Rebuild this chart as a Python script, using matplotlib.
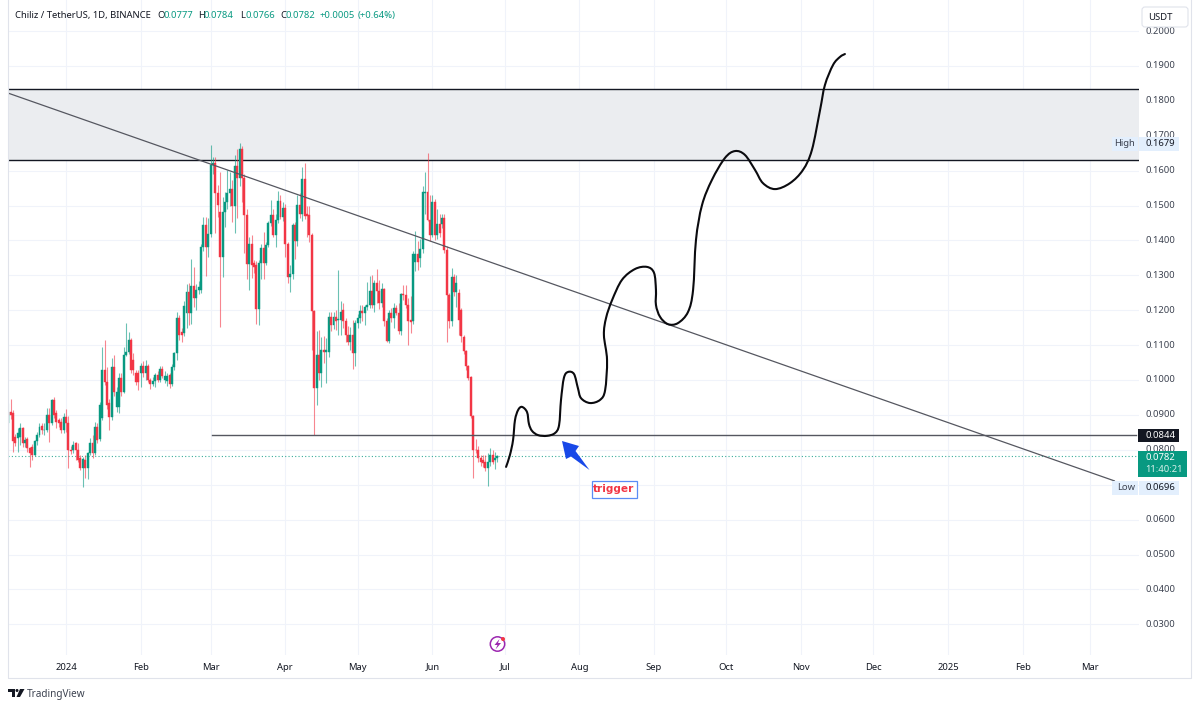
import numpy as np
import matplotlib
matplotlib.use("Agg")
import matplotlib.pyplot as plt
from matplotlib.patches import Rectangle, Polygon, FancyBboxPatch, Circle, PathPatch
from matplotlib.path import Path

plt.rcParams['font.family'] = ['Noto Sans', 'DejaVu Sans']

# ---------- data ----------
last_day = 179  # days since 2024-01-01 of the last candle
opens = [
 .0878,.0909,.0905,.0838,.0833,.0838,.0862,.0819,.0830,.0804,
 .0809,.0785,.0826,.0842,.0868,.0857,.0857,.0900,.0876,.0943,
 .0905,.0885,.0881,.0857,.0895,.0876,.0800,.0799,.0819,.0800,.0776,
 .0747,.0771,.0747,.0792,.0819,.0792,.0866,.0830,.0890,.1030,
 .0995,.0933,.0895,.1038,.0923,.0923,.1005,.0966,.1073,.1081,
 .1116,.1057,.1019,.1019,.1019,.1041,.1019,.1041,.1000,.0988,
 .0997,.1014,.1000,.1032,.1000,.0998,.1014,.0988,.1038,.1076,
 .1178,.1137,.1134,.1191,.1253,.1193,.1269,.1234,.1258,.1258,
 .1382,.1444,.1382,.1418,.1616,.1622,.1535,.1482,.1353,.1482,.1511,
 .1535,.1546,.1498,.1613,.1580,.1663,.1580,.1472,.1331,.1391,
 .1334,.1330,.1203,.1334,.1377,.1336,.1386,.1449,.1472,.1415,
 .1458,.1512,.1466,.1494,.1389,.1296,.1303,.1444,.1399,.1501,
 .1477,.1577,.1475,.1472,.1415,.1197,.0976,.1071,.1019,.1086,
 .1081,.1081,.1181,.1157,.1181,.1172,.1172,.1201,.1168,
 .1129,.1110,.1129,.1077,.1163,.1177,.1199,.1191,.1210,.1215,
 .1256,.1215,.1279,.1256,.1220,.1260,.1168,.1113,.1193,.1177,
 .1206,.1191,.1139,.1247,.1244,.1215,.1172,.1168,.1339,.1360,
 .1349,.1375,.1535,.1540,.1459,.1416,.1509,.1416,.1446,.1446,
 .1465,.1373,.1244,.1168,.1296,.1251,.1250,.1200,.1123,.1082,
 .1039,.1008,.0897,.0800,.0800,.0776,.0771,.0766,.0747,
 .0766,.0786,.0770,.0777]
highs = [
 .0933,.0945,.0914,.0845,.0862,.0878,.0866,.0838,.0838,.0809,
 .0818,.0828,.0852,.0876,.0876,.0876,.0919,.0919,.0945,.0952,
 .0914,.0892,.0890,.0905,.0916,.0897,.0810,.0825,.0823,.0819,.0785,
 .0778,.0785,.0795,.0833,.0842,.0881,.0878,.0938,.1095,.1116,
 .1038,.0945,.1062,.1071,.0980,.1020,.1019,.1095,.1162,.1138,
 .1120,.1078,.1030,.1028,.1050,.1055,.1057,.1045,.1005,.1010,
 .1020,.1025,.1040,.1040,.1025,.1020,.1020,.1045,.1080,.1196,
 .1185,.1150,.1225,.1275,.1277,.1348,.1324,.1275,.1285,.1390,
 .1466,.1466,.1463,.1673,.1640,.1640,.1558,.1597,.1525,.1539,.1601,
 .1597,.1573,.1644,.1663,.1678,.1670,.1590,.1490,.1410,.1415,
 .1345,.1340,.1345,.1390,.1425,.1395,.1455,.1517,.1490,.1475,
 .1541,.1530,.1510,.1505,.1395,.1330,.1450,.1452,.1530,.1535,
 .1609,.1623,.1500,.1498,.1420,.1200,.1140,.1143,.1124,.1125,
 .1120,.1195,.1195,.1196,.1200,.1314,.1225,.1220,.1177,
 .1155,.1153,.1172,.1172,.1190,.1215,.1215,.1215,.1282,.1298,
 .1301,.1287,.1317,.1287,.1277,.1265,.1177,.1200,.1205,.1220,
 .1215,.1220,.1250,.1273,.1273,.1235,.1240,.1370,.1428,.1397,
 .1405,.1555,.1597,.1650,.1530,.1530,.1518,.1490,.1475,.1475,
 .1476,.1385,.1250,.1320,.1305,.1300,.1260,.1205,.1128,.1087,
 .1043,.1012,.0900,.0830,.0810,.0785,.0785,.0785,.0790,
 .0805,.0800,.0795,.0784]
lows = [
 .0852,.0887,.0795,.0812,.0795,.0814,.0809,.0809,.0795,.0750,
 .0770,.0783,.0814,.0838,.0845,.0842,.0850,.0823,.0870,.0890,
 .0862,.0865,.0847,.0847,.0852,.0747,.0788,.0790,.0771,.0765,.0742,
 .0694,.0718,.0716,.0785,.0776,.0785,.0820,.0825,.0885,.0985,
 .0918,.0857,.0885,.0955,.0908,.0905,.0955,.0962,.1070,.1075,
 .1020,.1015,.0985,.0971,.0980,.1010,.1000,.0995,.0973,.0982,
 .0981,.0995,.0995,.1005,.0990,.0982,.0976,.0982,.1030,.1058,
 .1115,.1108,.1125,.1150,.1158,.1160,.1210,.1200,.1245,.1250,
 .1370,.1299,.1353,.1410,.1590,.1420,.1468,.1152,.1296,.1439,.1490,
 .1500,.1453,.1420,.1463,.1555,.1510,.1363,.1290,.1258,.1291,
 .1308,.1160,.1158,.1290,.1290,.1330,.1380,.1440,.1410,.1382,
 .1450,.1460,.1455,.1353,.1277,.1253,.1290,.1348,.1385,.1465,
 .1455,.1460,.1410,.1396,.1085,.0842,.0928,.1000,.0981,.1050,
 .0990,.1065,.1140,.1145,.1143,.1130,.1130,.1150,.1110,
 .1100,.1085,.1031,.1039,.1150,.1163,.1170,.1158,.1200,.1205,
 .1205,.1196,.1220,.1203,.1210,.1155,.1108,.1105,.1165,.1148,
 .1185,.1132,.1130,.1230,.1205,.1100,.1136,.1160,.1313,.1314,
 .1323,.1365,.1475,.1455,.1397,.1410,.1400,.1405,.1410,.1435,
 .1365,.1110,.1150,.1155,.1240,.1210,.1128,.1110,.1075,.1030,
 .1000,.0890,.0719,.0790,.0765,.0755,.0750,.0740,.0696,
 .0755,.0758,.0745,.0766]
closes = [
 .0909,.0900,.0826,.0819,.0847,.0862,.0819,.0828,.0804,.0790,
 .0785,.0826,.0842,.0866,.0857,.0858,.0900,.0876,.0943,.0900,
 .0881,.0876,.0857,.0895,.0876,.0800,.0797,.0814,.0798,.0771,.0747,
 .0773,.0747,.0792,.0819,.0792,.0866,.0828,.0928,.1030,.0995,
 .0928,.0895,.1038,.0966,.0966,.1005,.0966,.1073,.1081,.1116,
 .1028,.1028,.0995,.0995,.1041,.1019,.1041,.1000,.0988,.0997,
 .1014,.1000,.1032,.1011,.1011,.1011,.0988,.1038,.1076,.1178,
 .1129,.1129,.1213,.1251,.1193,.1269,.1234,.1258,.1267,.1382,
 .1444,.1382,.1418,.1616,.1622,.1535,.1501,.1353,.1482,.1511,.1535,
 .1546,.1498,.1613,.1580,.1663,.1580,.1472,.1331,.1391,.1329,
 .1325,.1203,.1335,.1377,.1336,.1386,.1449,.1472,.1415,.1458,
 .1512,.1466,.1494,.1389,.1296,.1303,.1444,.1399,.1501,.1477,
 .1577,.1470,.1470,.1415,.1197,.0976,.1071,.1019,.1086,.1081,
 .1086,.1181,.1157,.1181,.1170,.1174,.1196,.1168,.1129,
 .1110,.1129,.1077,.1163,.1177,.1199,.1191,.1210,.1215,.1256,
 .1215,.1279,.1256,.1220,.1260,.1168,.1113,.1193,.1177,.1206,
 .1191,.1139,.1247,.1244,.1215,.1168,.1165,.1360,.1360,.1337,
 .1375,.1540,.1540,.1459,.1416,.1511,.1416,.1446,.1420,.1465,
 .1373,.1244,.1168,.1296,.1251,.1279,.1172,.1125,.1082,.1039,
 .1005,.0897,.0800,.0798,.0776,.0766,.0763,.0747,.0766,
 .0786,.0766,.0776,.0782]

month_days = [0, 31, 60, 91, 121, 152, 182, 213, 244, 274, 305, 335, 366, 397, 425]
month_labels = ['2024', 'Feb', 'Mar', 'Apr', 'May', 'Jun', 'Jul', 'Aug', 'Sep', 'Oct', 'Nov', 'Dec', '2025', 'Feb', 'Mar']
price_ticks = [.03, .04, .05, .06, .07, .08, .09, .10, .11, .12, .13, .14, .15, .16, .17, .18, .19, .20]
price_labels = [.03, .04, .05, .06, .08, .09, .10, .11, .12, .13, .14, .15, .16, .17, .18, .19, .20]

zone_low, zone_high = .1630, .1834
trend_days = [-24, 435]
trend_prices = [.1822, .0711]
support_days = [60.6, 444]
support_price = .0841
last_price = .0782

sketch_days = [182.6,184.2,185.5,186.3,187.6,189.2,191.3,192.1,193.4,195.9,199.6,202.9,204.6,205.4,206.6,208.3,
 210.8,212.4,213.7,217.4,221.6,223.7,224.5,223.2,224.1,226.6,230.7,236.1,241.1,244.0,244.8,244.8,246.5,249.8,
 253.9,258.1,260.2,261.4,263.9,268.0,273.4,277.6,281.7,285.9,289.2,294.2,300.4,305.8,309.5,312.9,314.9,318.3,321.2,323.2]
sketch_prices = [.0751,.0785,.0828,.0885,.0914,.0923,.0908,.0874,.0854,.0842,.0840,.0848,.0871,.0943,.1006,.1023,
 .1017,.0977,.0948,.0934,.0943,.0971,.1057,.1129,.1178,.1229,.1287,.1318,.1324,.1307,.1258,.1215,.1181,.1160,
 .1163,.1195,.1258,.1401,.1501,.1573,.1636,.1656,.1645,.1602,.1564,.1547,.1564,.1602,.1659,.1774,.1845,.1903,.1926,.1934]

# ---------- figure ----------
W, H = 1200, 705
fig = plt.figure(figsize=(W / 100, H / 100), dpi=100, facecolor='white')
L, R, T, B = 8, 1139, 0, 655
ax = fig.add_axes([L / W, 1 - B / H, (R - L) / W, (B - T) / H])
px_per_day = 2.41
ax.set_xlim((L - 66) / px_per_day, (R - 66) / px_per_day)
ax.set_ylim(.1 + (380 - B) / 3490, .1 + (380 - T) / 3490)
for s in ax.spines.values():
    s.set_visible(False)
ax.set_xticks([]); ax.set_yticks([])

for d in month_days:
    ax.axvline(d, color='#f0f3fa', lw=0.8, zorder=0)
for p in price_ticks:
    ax.axhline(p, color='#f0f3fa', lw=0.8, zorder=0)

ax.axhspan(zone_low, zone_high, color='#ebedf0', lw=0, zorder=1)
ax.axhline(zone_low, color='#131722', lw=1.0, zorder=2)
ax.axhline(zone_high, color='#131722', lw=1.0, zorder=2)
ax.axhline(last_price, color='#089981', lw=0.8, ls=(0, (1, 2)), alpha=.8, zorder=2)

# candles
UP, DOWN = '#089981', '#f23645'
days = last_day - (len(closes) - 1) + np.arange(len(closes))
o, h, l, c = map(np.array, (opens, highs, lows, closes))
cols = [UP if ci >= oi else DOWN for oi, ci in zip(o, c)]
ax.vlines(days, l, h, colors=cols, lw=0.8, alpha=.6, zorder=3)
ax.bar(days, np.abs(c - o), bottom=np.minimum(o, c), width=0.82, color=cols,
       edgecolor=cols, linewidth=0.3, zorder=4)

ax.plot(trend_days, trend_prices, color='#555760', lw=0.9, zorder=5)
ax.plot(support_days, [support_price] * 2, color='#555760', lw=1.0, zorder=5)

# hand-drawn sketch: smooth curve through the read points
xs = np.array(sketch_days); ys = np.array(sketch_prices)
verts = [(xs[0], ys[0])]; ops = [Path.MOVETO]
for i in range(len(xs) - 1):
    i0, i3 = max(i - 1, 0), min(i + 2, len(xs) - 1)
    verts += [(xs[i] + (xs[i + 1] - xs[i0]) / 6, ys[i] + (ys[i + 1] - ys[i0]) / 6),
              (xs[i + 1] - (xs[i3] - xs[i]) / 6, ys[i + 1] - (ys[i3] - ys[i]) / 6),
              (xs[i + 1], ys[i + 1])]
    ops += [Path.CURVE4] * 3
ax.add_patch(PathPatch(Path(verts, ops), fc='none', ec='#0b0b0f', lw=1.5, capstyle='round',
                       joinstyle='round', zorder=6))

# ---------- chrome in pixel coordinates ----------
ov = fig.add_axes([0, 0, 1, 1], facecolor='none')
ov.set_xlim(0, W); ov.set_ylim(H, 0); ov.axis('off')
TXT = '#131722'; FS = 6.8
to_y = lambda p: 380 + (.1 - p) * 3490

for d, lab in zip(month_days, month_labels):
    x = 66 + d * px_per_day
    ov.text(x, 667, lab, ha='center', va='center', fontsize=FS, color=TXT)
for p in price_labels:
    ov.text(1145, to_y(p), f'{p:.4f}', ha='left', va='center', fontsize=FS, color='#3c4250', zorder=2)

# frame
ov.plot([7.5, 7.5, 1190.5, 1190.5], [0, 677.5, 677.5, 0], color='#e0e3eb', lw=0.8, zorder=1)

# USDT button
ov.add_patch(FancyBboxPatch((1142, 7), 46, 20, boxstyle='round,pad=0,rounding_size=3',
                            fc='white', ec='#e0e3eb', lw=0.8, zorder=3))
ov.text(1148, 17.5, 'USDT', ha='left', va='center', fontsize=FS, color=TXT, zorder=4)

def tag(x0, x1, y0, y1, col):
    ov.add_patch(Rectangle((x0, y0), x1 - x0, y1 - y0, fc=col, ec='none', zorder=3))

LIGHT = '#e3effd'
for yc, name, val in ((144, 'High', '0.1679'), (488, 'Low', '0.0696')):
    tag(1112, 1138, yc - 7, yc + 7, LIGHT)
    tag(1138.5, 1179, yc - 7, yc + 7, LIGHT)
    ov.text(1135, yc, name, ha='right', va='center', fontsize=FS, color='#3c4250', zorder=4)
    ov.text(1145, yc, val, ha='left', va='center', fontsize=FS, color=TXT, zorder=4)
tag(1138, 1179, 429, 442, '#131722')
ov.text(1145, 435.5, '0.0844', ha='left', va='center', fontsize=FS, color='white', zorder=4)
tag(1138, 1187, 451, 477, '#089981')
ov.text(1145, 457.5, '0.0782', ha='left', va='center', fontsize=FS, color='white', zorder=4)
ov.text(1145, 469.5, '11:40:21', ha='left', va='center', fontsize=FS, color='#d8f0ea', zorder=4)

# legend line
ov.text(15, 15.5, 'Chiliz / TetherUS, 1D, BINANCE', ha='left', va='center', fontsize=FS, color=TXT)
for x, s, col in ((157, 'O', TXT), (163, '0.0777', UP), (198, 'H', TXT), (204, '0.0784', UP),
                  (240, 'L', TXT), (245, '0.0766', UP), (280, 'C', TXT), (285, '0.0782', UP),
                  (320, '+0.0005', UP), (358, '(+0.64%)', UP)):
    ov.text(x, 15.5, s, ha='left', va='center', fontsize=FS, color=col)

# arrow and trigger note
ov.add_patch(Polygon([(562, 441), (579, 446), (575.5, 451), (589.5, 470), (571, 456.5), (566, 459)],
                     closed=True, fc='#1848e8', ec='none', zorder=7))
ov.add_patch(Rectangle((591.5, 480.5), 45, 17, fc='white', ec='#5b8cf5', lw=0.9, zorder=7))
ov.text(614, 489, 'trigger', ha='center', va='center', fontsize=7.6, fontweight='bold',
        family='DejaVu Sans', color='#f23645', zorder=8)

# event icon
ov.add_patch(Circle((497.5, 644), 7.2, fc='white', ec='#9c27b0', lw=1.1, zorder=7))
ov.add_patch(Polygon([(499.5, 639), (494.5, 645), (497.5, 645), (495.5, 649.5), (501, 643), (498, 643)],
                     closed=True, fc='#9c27b0', ec='none', zorder=8))
ov.add_patch(Circle((503, 639), 2, fc='#f23645', ec='none', zorder=9))

# TradingView logo
ov.add_patch(Polygon([(8, 689), (15, 689), (15, 697), (11.5, 697), (11.5, 692), (8, 692)],
                     closed=True, fc='#131722', ec='none'))
ov.add_patch(Circle((17, 690.5), 1.5, fc='#131722', ec='none'))
ov.add_patch(Polygon([(20, 689), (24.5, 689), (20, 697), (16.5, 697)], closed=True, fc='#131722', ec='none'))
ov.text(27, 694, 'TradingView', ha='left', va='center', fontsize=7.2, color='#3c4250')

fig.savefig('out.png', dpi=100)
